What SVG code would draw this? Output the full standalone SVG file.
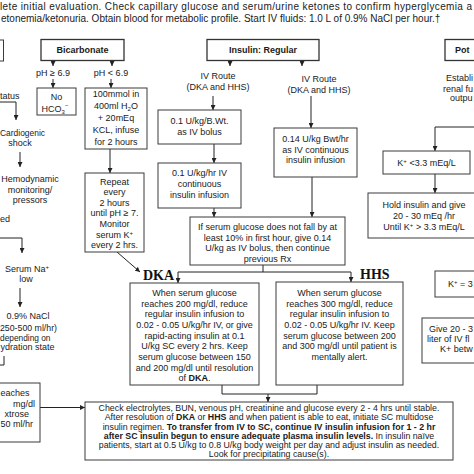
<svg xmlns="http://www.w3.org/2000/svg" width="474" height="474" viewBox="0 0 474 474">
<style>
.t{font-family:"Liberation Sans",Arial,sans-serif;font-size:9px;fill:#1a1a1a}
.m{text-anchor:middle}
.e{text-anchor:end}
.b{font-weight:bold}
.bt{font-size:8.8px}
.top{font-size:10px}
.hd{font-family:"Liberation Serif","Times New Roman",serif;font-size:14px;font-weight:bold;fill:#111}
.box{fill:#fff;stroke:#3a3a3a;stroke-width:1}
.hbox{fill:#fff;stroke:#333;stroke-width:1.3}
.cn{fill:none;stroke:#222;stroke-width:1}
.arr{marker-end:url(#ah)}
.sm{font-size:6px}
</style>
<defs>
<marker id="ah" viewBox="0 0 10 10" refX="10" refY="5" markerWidth="5" markerHeight="5" markerUnits="userSpaceOnUse" orient="auto"><path d="M0,0 L10,5 L0,10 z" fill="#222"/></marker>
</defs>
<rect width="474" height="474" fill="#fff"/>

<g id="intro" class="t top">
<text x="0" y="9.5" textLength="472" lengthAdjust="spacing">lete initial evaluation. Check capillary glucose and serum/urine ketones to confirm hyperglycemia a</text>
<text x="1" y="21.5">etonemia/ketonuria. Obtain blood for metabolic profile. Start IV fluids: 1.0 L of 0.9% NaCl per hour.†</text>
</g>

<g id="connectors" class="cn">
<path class="arr" d="M53,60.5 V66"/>
<path class="arr" d="M112,60.5 V66"/>
<path class="arr" d="M53,79 V88"/>
<path class="arr" d="M111,79 V88"/>
<path class="arr" d="M110,149 V173"/>
<path class="arr" d="M117,252 L140,272"/>
<path class="arr" d="M230,60.5 V66"/>
<path class="arr" d="M302,60.5 V66"/>
<path class="arr" d="M213,96 V110"/>
<path class="arr" d="M214,144 V163"/>
<path class="arr" d="M214,208 V217"/>
<path class="arr" d="M311,96 V128"/>
<path class="arr" d="M312,177 V217"/>
<path d="M263,265 V272 M178,272 H351"/>
<path class="arr" d="M178,272 V283"/>
<path class="arr" d="M351,272 V282"/>
<path d="M222,385 V394 H317 V385"/>
<path class="arr" d="M268,394 V402"/>
<path class="arr" d="M40,407.5 H85"/>
<path class="arr" d="M474,127 H435 V151"/>
<path class="arr" d="M435,174 V193"/>
<path class="arr" d="M0,102 H16 V120"/>
<path class="arr" d="M20,152 V167"/>
<path class="arr" d="M0,238 H22 V253"/>
<path class="arr" d="M20,288 V307"/>
<path d="M4,356 V365 H-2"/>
</g>

<g id="fluids-box"><rect class="box" x="-20" y="40" width="23.5" height="21"/></g>
<g id="mental-status" class="t"><text x="0" y="98.5">tatus</text></g>
<g id="cardiogenic" class="t"><text x="0" y="135.5" textLength="45" lengthAdjust="spacingAndGlyphs">Cardiogenic</text><text class="m" x="20" y="145.5">shock</text></g>
<g id="hemodynamic" class="t m"><text x="30" y="182.2">Hemodynamic</text><text x="30" y="193.2">monitoring/</text><text x="30" y="203.2">pressors</text></g>
<g id="hydrated" class="t"><text x="0" y="221.5">ed</text></g>
<g id="sodium-low" class="t m"><text x="27" y="271.5">Serum Na<tspan class="sm" dy="-3">+</tspan></text><text x="26" y="282">low</text></g>
<g id="nacl" class="t"><text class="m" x="28" y="319">0.9% NaCl</text><text x="0" y="331" textLength="57" lengthAdjust="spacingAndGlyphs">250-500 ml/hr)</text><text x="0" y="340.5" textLength="50.5" lengthAdjust="spacingAndGlyphs">depending on</text><text x="0.5" y="350">ydration state</text></g>
<g id="dextrose" class="t"><rect class="box" x="-30" y="383" width="70" height="59"/><text x="0.5" y="396">eaches</text><text class="e" x="35" y="406.5">mg/dl</text><text class="e" x="29" y="416.5">xtrose</text><text class="e" x="33" y="427">50 ml/hr</text></g>

<g id="bicarbonate" class="t"><rect class="hbox" x="41" y="39.5" width="83" height="21"/><text class="m b" x="82.5" y="53">Bicarbonate</text></g>
<g id="ph-ge" class="t"><text class="m" x="53" y="75.5">pH ≥ 6.9</text></g>
<g id="ph-lt" class="t"><text class="m" x="111" y="75.5">pH &lt; 6.9</text></g>
<g id="no-hco3" class="t m"><rect class="box" x="37" y="88" width="39" height="27"/><text x="56.5" y="100">No</text><text x="55" y="111.5">HCO<tspan class="sm" dy="2">3</tspan><tspan class="sm" dy="-7">−</tspan></text></g>
<g id="bicarb-infuse" class="t m"><rect class="box" x="85" y="88" width="62" height="61"/><text x="116" y="96.5">100mmol in</text><text x="116" y="108.5">400ml H<tspan class="sm" dy="2">2</tspan><tspan dy="-2">O</tspan></text><text x="116" y="120.5">+ 20mEq</text><text x="116" y="132.5">KCL, infuse</text><text x="116" y="144.5">for 2 hours</text></g>
<g id="repeat" class="t m"><rect class="box" x="85" y="173" width="59" height="79"/><text x="114.5" y="184.5">Repeat</text><text x="114.5" y="195.1">every</text><text x="114.5" y="205.7">2 hours</text><text x="114.5" y="216.3">until pH ≥ 7.</text><text x="114.5" y="226.9">Monitor</text><text x="114.5" y="237.5">serum K<tspan class="sm" dy="-3">+</tspan></text><text x="114.5" y="248.1">every 2 hrs.</text></g>

<g id="insulin" class="t"><rect class="hbox" x="207" y="39.5" width="112" height="21"/><text class="m b" x="263" y="53">Insulin: Regular</text></g>
<g id="iv-route-left" class="t m"><text x="218" y="79.2">IV Route</text><text x="218" y="90.2">(DKA and HHS)</text></g>
<g id="iv-route-right" class="t m"><text x="319" y="81.5">IV Route</text><text x="319" y="93">(DKA and HHS)</text></g>
<g id="bolus" class="t m"><rect class="box" x="158" y="110" width="83" height="34"/><text x="199.5" y="124.2">0.1 U/kg/B.Wt.</text><text x="199.5" y="134.5">as IV bolus</text></g>
<g id="continuous" class="t m"><rect class="box" x="158" y="163" width="83" height="45"/><text x="199.5" y="176.2">0.1 U/kg/hr IV</text><text x="199.5" y="187.2">continuous</text><text x="199.5" y="198.2">insulin infusion</text></g>
<g id="infusion-014" class="t m"><rect class="box" x="274" y="128" width="83" height="49"/><text x="315.5" y="142.2">0.14 U/kg Bwt/hr</text><text x="315.5" y="152.5">as IV continuous</text><text x="315.5" y="162.5">insulin infusion</text></g>
<g id="no-fall" class="t m"><rect class="box" x="190" y="217" width="155" height="48"/><text x="267.5" y="229.8">If serum glucose does not fall by at</text><text x="267.5" y="240.6">least 10% in first hour, give 0.14</text><text x="267.5" y="251.4">U/kg as IV  bolus, then continue</text><text x="267.5" y="262.2">previous Rx</text></g>

<g id="dka-label"><text class="hd" x="143" y="280">DKA</text></g>
<g id="hhs-label"><text class="hd" x="360" y="279">HHS</text></g>
<g id="dka" class="t m"><rect class="box" x="130" y="283" width="129" height="102"/>
<text x="194.5" y="296">When serum glucose</text>
<text x="194.5" y="306.6">reaches 200 mg/dl, reduce</text>
<text x="194.5" y="317.3">regular insulin infusion to</text>
<text x="194.5" y="328">0.02 - 0.05 U/kg/hr IV, or give</text>
<text x="194.5" y="338.6">rapid-acting insulin at 0.1</text>
<text x="194.5" y="349.3">U/kg SC every 2 hrs. Keep</text>
<text x="194.5" y="360">serum glucose between 150</text>
<text x="194.5" y="370.6">and 200 mg/dl until resolution</text>
<text x="194.5" y="381.3">of  <tspan class="b">DKA</tspan>.</text>
</g>
<g id="hhs" class="t m"><rect class="box" x="276" y="282" width="127" height="103"/>
<text x="339.5" y="296">When serum glucose</text>
<text x="339.5" y="306.6">reaches 300 mg/dl, reduce</text>
<text x="339.5" y="317.3">regular insulin infusion to</text>
<text x="339.5" y="328">0.02 - 0.05 U/kg/hr IV.  Keep</text>
<text x="339.5" y="338.6">serum glucose between 200</text>
<text x="339.5" y="349.3">and 300 mg/dl until patient is</text>
<text x="339.5" y="360">mentally alert.</text>
</g>

<g id="follow-up" class="t bt m"><rect class="box" x="85" y="402" width="368" height="58"/>
<text x="269" y="410.9">Check electrolytes, BUN, venous pH, creatinine and glucose every 2 - 4 hrs until stable.</text>
<text x="269" y="420.2">After resolution of <tspan class="b">DKA</tspan> or <tspan class="b">HHS</tspan> and when patient is able to eat, initiate SC multidose</text>
<text x="269" y="429.5">insulin regimen. <tspan class="b">To transfer from IV to SC, continue IV insulin infusion for 1 - 2 hr</tspan></text>
<text x="269" y="438.8"><tspan class="b">after SC insulin begun to ensure adequate plasma insulin levels.</tspan>  In insulin naïve</text>
<text x="269" y="448.1">patients, start at 0.5 U/kg to 0.8 U/kg body weight per day and adjust insulin as needed.</text>
<text x="269" y="457.4">Look for precipitating cause(s).</text>
</g>

<g id="potassium" class="t"><rect class="hbox" x="445" y="39.5" width="60" height="21"/><text class="b" x="455" y="53">Pot</text></g>
<g id="renal" class="t"><text x="446" y="80.5">Establi</text><text x="443" y="91.5">renal fu</text><text x="450" y="100.5">outpu</text></g>
<g id="k-low" class="t m"><rect class="box" x="383" y="151" width="87" height="23"/><text x="426.5" y="166">K<tspan class="sm" dy="-3">+</tspan><tspan dy="3"> &lt;3.3 mEq/L</tspan></text></g>
<g id="hold" class="t m"><rect class="box" x="368" y="193" width="115" height="45"/><text x="424" y="208.2">Hold insulin and give</text><text x="424" y="219.2">20 - 30 mEq /hr</text><text x="424" y="230.2">Until K<tspan class="sm" dy="-3">+</tspan><tspan dy="3"> &gt; 3.3 mEq/L</tspan></text></g>
<g id="k-normal" class="t"><rect class="box" x="435" y="271" width="60" height="26"/><text x="448" y="287">K<tspan class="sm" dy="-3">+</tspan><tspan dy="3"> = 3</tspan></text></g>
<g id="give" class="t"><rect class="box" x="422" y="318" width="70" height="45"/><text x="429" y="332">Give 20 - 3</text><text x="427" y="342">liter of IV  fl</text><text x="440" y="351.5">K+ betw</text></g>
</svg>
